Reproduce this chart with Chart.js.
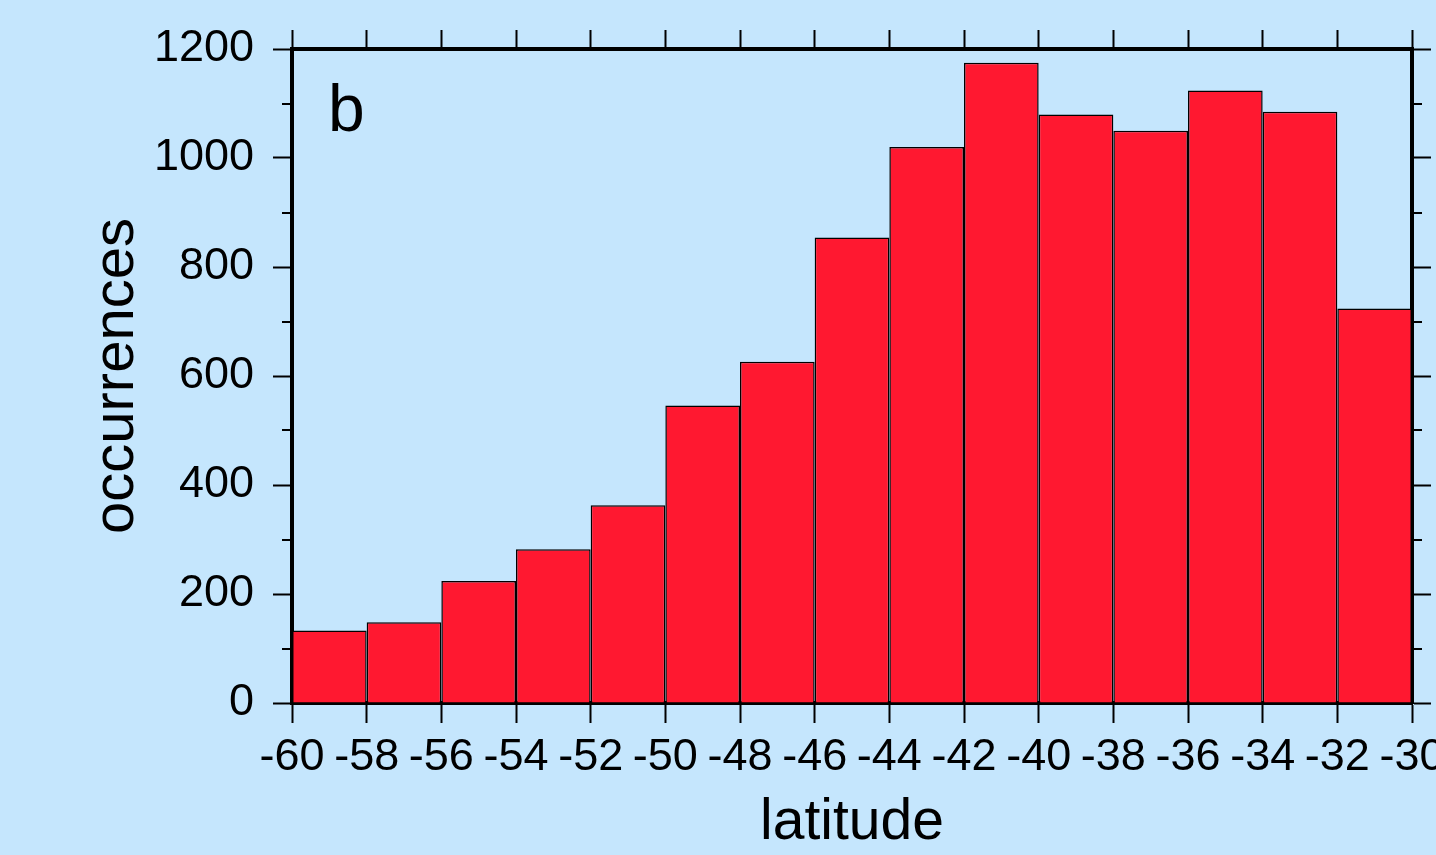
<!DOCTYPE html>
<html>
<head>
<meta charset="utf-8">
<script src="https://cdn.jsdelivr.net/npm/chart.js@4/dist/chart.umd.min.js"></script>
<style>
  html, body { margin: 0; padding: 0; background: #c5e6fd; }
  #wrap { width: 1436px; height: 855px; }
</style>
</head>
<body>
<div id="wrap"><canvas id="c" width="1436" height="855"></canvas></div>
<script>
// ---- data ----
const latStart = [-60, -58, -56, -54, -52, -50, -48, -46, -44, -42, -40, -38, -36, -34, -32];
const occurrences = [133, 148, 224, 282, 363, 546, 626, 854, 1020, 1175, 1080, 1050, 1124, 1085, 724];
const binWidth = 2;
const xTickValues = [-60, -58, -56, -54, -52, -50, -48, -46, -44, -42, -40, -38, -36, -34, -32, -30];
const yTickValues = [0, 200, 400, 600, 800, 1000, 1200];
const yMinorTicks = [100, 300, 500, 700, 900, 1100];
const xTitle = 'latitude';
const yTitle = 'occurrences';
const panelLabel = 'b';

const FONT = '"Liberation Sans", Arial, Helvetica, sans-serif';
const BG = '#c5e6fd';
const BAR = 'rgb(255, 24, 48)';

const points = latStart.map((s, i) => ({ x: s + binWidth / 2, y: occurrences[i] }));

const bgPlugin = {
  id: 'bg',
  beforeDraw(chart) {
    const ctx = chart.ctx;
    ctx.save();
    ctx.fillStyle = BG;
    ctx.fillRect(0, 0, chart.width, chart.height);
    ctx.restore();
  }
};

const extrasPlugin = {
  id: 'extras',
  afterDraw(chart) {
    const ctx = chart.ctx;
    const ca = chart.chartArea;
    const y = chart.scales.y;
    ctx.save();
    ctx.strokeStyle = '#000';
    ctx.lineWidth = 2;
    yMinorTicks.forEach(v => {
      const py = Math.round(y.getPixelForValue(v));
      ctx.beginPath();
      ctx.moveTo(ca.left - 10, py);
      ctx.lineTo(ca.left, py);
      ctx.moveTo(ca.right, py);
      ctx.lineTo(ca.right + 10, py);
      ctx.stroke();
    });
    ctx.fillStyle = '#000';
    ctx.font = '66px ' + FONT;
    ctx.textBaseline = 'alphabetic';
    ctx.textAlign = 'left';
    ctx.fillText(panelLabel, ca.left + 36, ca.top + 82);
    ctx.restore();
  }
};

function setTicks(values) {
  return function (scale) { scale.ticks = values.map(v => ({ value: v })); };
}

new Chart(document.getElementById('c'), {
  type: 'bar',
  data: {
    datasets: [{
      data: points,
      backgroundColor: BAR,
      borderColor: '#000',
      borderWidth: 1.5,
      borderSkipped: 'bottom',
      barPercentage: 1,
      categoryPercentage: 1,
      inflateAmount: 0
    }]
  },
  options: {
    responsive: false,
    animation: false,
    devicePixelRatio: 1,
    layout: { padding: 0 },
    plugins: { legend: { display: false }, tooltip: { enabled: false } },
    scales: {
      x: {
        type: 'linear',
        position: 'bottom',
        min: -60, max: -30,
        offset: false,
        z: 1,
        afterBuildTicks: setTicks(xTickValues),
        afterFit(s) { s.height = 152; s.paddingLeft = 0; s.paddingRight = 0; },
        grid: { offset: false, drawOnChartArea: false, drawTicks: true, tickLength: 20, tickWidth: 2, tickColor: '#000' },
        border: { display: true, color: '#000', width: 4 },
        ticks: {
          autoSkip: false, maxRotation: 0, minRotation: 0, padding: 8,
          color: '#000', font: { family: FONT, size: 45 },
          callback: v => String(v)
        },
        title: { display: true, text: xTitle, color: '#000', font: { family: FONT, size: 57, lineHeight: 1.1 }, padding: { top: 0, bottom: 0 } }
      },
      x2: {
        type: 'linear',
        position: 'top',
        min: -60, max: -30,
        offset: false,
        z: 1,
        afterBuildTicks: setTicks(xTickValues),
        afterFit(s) { s.height = 49; s.paddingLeft = 0; s.paddingRight = 0; },
        grid: { offset: false, drawOnChartArea: false, drawTicks: true, tickLength: 19, tickWidth: 2, tickColor: '#000' },
        border: { display: true, color: '#000', width: 4 },
        ticks: { display: false }
      },
      y: {
        type: 'linear',
        position: 'left',
        min: 0, max: 1200,
        z: 1,
        afterBuildTicks: setTicks(yTickValues),
        afterFit(s) { s.width = 292; s.paddingTop = 0; s.paddingBottom = 0; },
        grid: { drawOnChartArea: false, drawTicks: true, tickLength: 19, tickWidth: 2, tickColor: '#000' },
        border: { display: true, color: '#000', width: 4 },
        ticks: {
          padding: 19, color: '#000', font: { family: FONT, size: 45 },
          callback: v => String(v)
        },
        title: { display: true, text: yTitle, color: '#000', font: { family: FONT, size: 58, lineHeight: 1.2 }, padding: { top: 82, bottom: 0 } }
      },
      y2: {
        type: 'linear',
        position: 'right',
        min: 0, max: 1200,
        z: 1,
        afterBuildTicks: setTicks(yTickValues),
        afterFit(s) { s.width = 24; s.paddingTop = 0; s.paddingBottom = 0; },
        grid: { drawOnChartArea: false, drawTicks: true, tickLength: 19, tickWidth: 2, tickColor: '#000' },
        border: { display: true, color: '#000', width: 4 },
        ticks: { display: false }
      }
    }
  },
  plugins: [bgPlugin, extrasPlugin]
});
</script>
</body>
</html>
